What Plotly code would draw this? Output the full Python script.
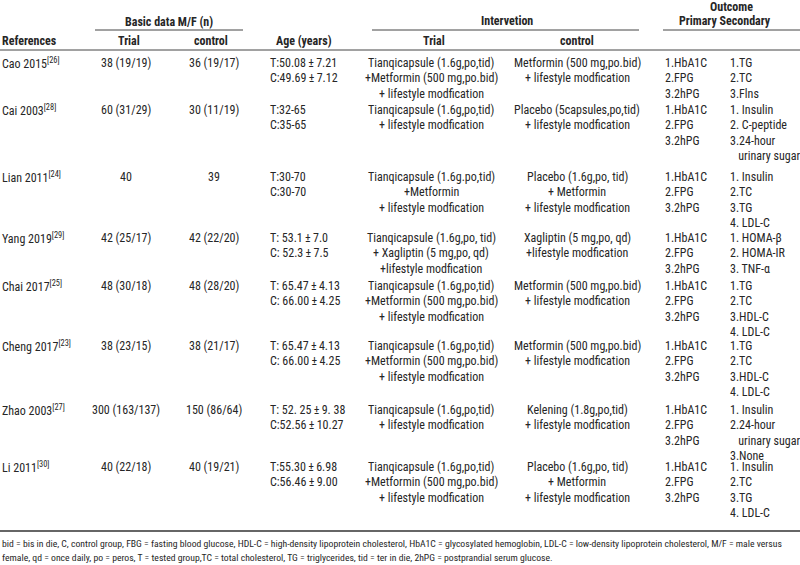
import plotly.graph_objects as go

# ---------------- data ----------------
references = ["Cao 2015", "Cai 2003", "Lian 2011", "Yang 2019", "Chai 2017",
              "Cheng 2017", "Zhao 2003", "Li 2011"]
ref_cites = ["26", "28", "24", "29", "25", "23", "27", "30"]
trial_n = ["38 (19/19)", "60 (31/29)", "40", "42 (25/17)", "48 (30/18)",
           "38 (23/15)", "300 (163/137)", "40 (22/18)"]
control_n = ["36 (19/17)", "30 (11/19)", "39", "42 (22/20)", "48 (28/20)",
             "38 (21/17)", "150 (86/64)", "40 (19/21)"]
age = [
    ["T:50.08\u2009±\u20097.21", "C:49.69\u2009±\u20097.12"],
    ["T:32-65", "C:35-65"],
    ["T:30-70", "C:30-70"],
    ["T: 53.1\u2009±\u20097.0", "C: 52.3\u2009±\u20097.5"],
    ["T: 65.47\u2009±\u20094.13", "C: 66.00\u2009±\u20094.25"],
    ["T: 65.47\u2009±\u20094.13", "C: 66.00\u2009±\u20094.25"],
    ["T: 52. 25\u2009±\u20099. 38", "C:52.56\u2009±\u200910.27"],
    ["T:55.30\u2009±\u20096.98", "C:56.46\u2009±\u20099.00"],
]
intervention_trial = [
    ["Tianqicapsule (1.6g,po,tid)", "+Metformin (500 mg,po.bid)", "+ lifestyle modfication"],
    ["Tianqicapsule (1.6g,po,tid)", "+ lifestyle modfication"],
    ["Tianqicapsule (1.6g.po,tid)", "+Metformin", "+ lifestyle modfication"],
    ["Tianqicapsule (1.6g,po, tid)", "+ Xagliptin (5 mg,po, qd)", "+lifestyle modfication"],
    ["Tianqicapsule (1.6g,po,tid)", "+Metformin (500 mg,po.bid)", "+ lifestyle modfication"],
    ["Tianqicapsule (1.6g,po,tid)", "+Metformin (500 mg,po.bid)", "+ lifestyle modfication"],
    ["Tianqicapsule (1.6g,po,tid)", "+ lifestyle modfication"],
    ["Tianqicapsule (1.6g,po,tid)", "+Metformin (500 mg,po.bid)", "+ lifestyle modfication"],
]
intervention_control = [
    ["Metformin (500 mg,po.bid)", "+ lifestyle modfication"],
    ["Placebo (5capsules,po,tid)", "+ lifestyle modfication"],
    ["Placebo (1.6g,po, tid)", "+ Metformin", "+ lifestyle modfication"],
    ["Xagliptin (5 mg,po, qd)", "+lifestyle modfication"],
    ["Metformin (500 mg,po.bid)", "+ lifestyle modfication"],
    ["Metformin (500 mg,po.bid)", "+ lifestyle modfication"],
    ["Kelening (1.8g,po,tid)", "+ lifestyle modfication"],
    ["Placebo (1.6g,po, tid)", "+ Metformin", "+ lifestyle modfication"],
]
primary = [["1.HbA1C", "2.FPG", "3.2hPG"]] * 8
secondary = [
    ["1.TG", "2.TC", "3.Flns"],
    ["1. Insulin", "2. C-peptide", "3.24-hour", "\u00a0\u00a0\u00a0urinary sugar"],
    ["1. Insulin", "2.TC", "3.TG", "4. LDL-C"],
    ["1. HOMA-β", "2. HOMA-IR", "3. TNF-α"],
    ["1.TG", "2.TC", "3.HDL-C", "4. LDL-C"],
    ["1.TG", "2.TC", "3.HDL-C", "4. LDL-C"],
    ["1. Insulin", "2.24-hour", "\u00a0\u00a0\u00a0urinary sugar", "3.None"],
    ["1. Insulin", "2.TC", "3.TG", "4. LDL-C"],
]
footnote = [
    "bid = bis in die, C, control group, FBG = fasting blood glucose, HDL-C = high-density lipoprotein cholesterol, "
    "HbA1C = glycosylated hemoglobin, LDL-C = low-density lipoprotein cholesterol, M/F = male versus",
    "female, qd = once daily, po = peros, T = tested group,TC = total cholesterol, TG = triglycerides, "
    "tid = ter in die, 2hPG = postprandial serum glucose.",
]

# ---------------- layout ----------------
FONT = "Liberation Sans Narrow, Arial Narrow, Roboto Condensed, DejaVu Sans Condensed, sans-serif"
FS = 12
COLOR = "#262626"
row_y = [63, 110, 177, 238, 286, 346, 410, 467]
LS = 15.3

col_x = {"ref": 0, "trial_n": 126, "control_n": 214, "age": 268,
         "int_trial": 431, "int_control": 577, "primary": 663, "secondary": 728}

fig = go.Figure()
fig.add_trace(go.Scatter(x=[0, 800], y=[0, 565], mode="markers",
                         marker=dict(opacity=0), hoverinfo="skip", showlegend=False))

ann = []


def txt(x, y, s, anchor="left", bold=False, size=FS, color=COLOR):
    ann.append(dict(x=x, y=y, xref="x", yref="y", text=("<b>%s</b>" % s) if bold else s,
                    showarrow=False, xanchor=anchor, yanchor="middle",
                    font=dict(family=FONT, size=size, color=color)))


# headers
txt(169, 22, "Basic data M/F (n)", "center", True)
txt(507, 21, "Intervetion", "center", True)
txt(731, 6.5, "Outcome", "center", True)
txt(725, 21, "Primary Secondary", "center", True)
txt(0, 41, "References", "left", True)
txt(129, 41, "Trial", "center", True)
txt(211, 41, "control", "center", True)
txt(304, 41, "Age (years)", "center", True)
txt(434, 41, "Trial", "center", True)
txt(577, 41, "control", "center", True)

for i, y0 in enumerate(row_y):
    txt(col_x["ref"], y0, "%s<sup>[%s]</sup>" % (references[i], ref_cites[i]))
    txt(col_x["trial_n"], y0, trial_n[i], "center")
    txt(col_x["control_n"], y0, control_n[i], "center")
    for j, s in enumerate(age[i]):
        txt(col_x["age"], y0 + j * LS, s)
    for j, s in enumerate(intervention_trial[i]):
        txt(col_x["int_trial"], y0 + j * LS, s, "center")
    for j, s in enumerate(intervention_control[i]):
        txt(col_x["int_control"], y0 + j * LS, s, "center")
    for j, s in enumerate(primary[i]):
        txt(col_x["primary"], y0 + j * LS, s)
    for j, s in enumerate(secondary[i]):
        txt(col_x["secondary"], y0 + j * LS, s)

for j, s in enumerate(footnote):
    txt(0, 543 + j * 14, s, size=9.7)

shapes = [
    dict(type="line", x0=95, x1=243, y0=30, y1=30, line=dict(color="#444", width=1)),
    dict(type="line", x0=372, x1=639, y0=30, y1=30, line=dict(color="#444", width=1)),
    dict(type="line", x0=663, x1=800, y0=30, y1=30, line=dict(color="#444", width=1)),
    dict(type="line", x0=0, x1=800, y0=50, y1=50, line=dict(color="#444", width=1)),
    dict(type="line", x0=0, x1=800, y0=531, y1=531, line=dict(color="#666", width=2)),
]
for s in shapes:
    s.update(xref="x", yref="y", layer="above")

fig.update_layout(
    width=800, height=565, margin=dict(l=0, r=0, t=0, b=0),
    paper_bgcolor="white", plot_bgcolor="white",
    xaxis=dict(range=[0, 800], visible=False, fixedrange=True),
    yaxis=dict(range=[565, 0], visible=False, fixedrange=True),
    annotations=ann, shapes=shapes, showlegend=False,
)
fig.write_html("out.html", config={"displayModeBar": False},
               post_script="document.body.style.margin='0';document.body.style.overflow='hidden';")
